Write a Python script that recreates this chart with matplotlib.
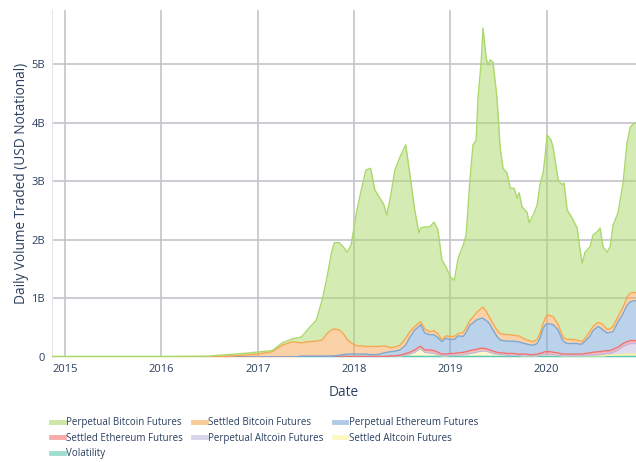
import numpy as np
import pandas as pd
import matplotlib
matplotlib.use("Agg")
import matplotlib.pyplot as plt
import matplotlib.dates as mdates
from matplotlib.lines import Line2D

# fechas de los puntos
fechas = ["2014-11-13", "2015-01-01", "2015-07-01", "2016-01-01", "2016-07-01",
          "2016-09-07", "2016-11-07", "2017-01-01", "2017-02-25", "2017-04-04",
          "2017-05-12", "2017-06-15", "2017-07-08", "2017-08-11", "2017-09-02",
          "2017-09-21", "2017-10-07", "2017-10-18", "2017-11-06", "2017-11-21",
          "2017-12-06", "2017-12-21", "2018-01-12", "2018-01-31", "2018-02-15",
          "2018-03-05", "2018-03-21", "2018-04-09", "2018-04-24", "2018-05-05",
          "2018-05-20", "2018-06-05", "2018-06-24", "2018-07-16", "2018-07-31",
          "2018-08-19", "2018-09-04", "2018-09-11", "2018-09-26", "2018-10-15",
          "2018-10-31", "2018-11-15", "2018-11-30", "2018-12-15", "2019-01-01",
          "2019-01-16", "2019-01-31", "2019-02-19", "2019-03-02", "2019-03-17",
          "2019-03-28", "2019-04-09", "2019-04-16", "2019-04-28", "2019-05-05",
          "2019-05-17", "2019-05-24", "2019-06-01", "2019-06-12", "2019-06-27",
          "2019-07-09", "2019-07-20", "2019-08-04", "2019-08-16", "2019-08-31",
          "2019-09-11", "2019-09-19", "2019-09-30", "2019-10-19", "2019-10-27",
          "2019-11-11", "2019-11-26", "2019-12-07", "2019-12-19", "2019-12-26",
          "2020-01-03", "2020-01-18", "2020-01-26", "2020-02-14", "2020-02-29",
          "2020-03-07", "2020-03-19", "2020-04-07", "2020-04-26", "2020-05-03",
          "2020-05-15", "2020-05-26", "2020-06-14", "2020-06-25", "2020-07-14",
          "2020-07-22", "2020-08-02", "2020-08-18", "2020-08-29", "2020-09-09",
          "2020-09-28", "2020-10-17", "2020-11-01", "2020-11-13", "2020-11-28",
          "2020-12-05"]

# volumen diario por serie (miles de millones USD)
perp_btc = [0.01, 0.01, 0.01, 0.01, 0.01, 0.025, 0.03, 0.035, 0.02, 0.04,
            0.05, 0.10, 0.20, 0.36, 0.68, 0.97, 1.31, 1.47, 1.49, 1.48,
            1.49, 1.67, 2.32, 2.71, 3.01, 3.04, 2.67, 2.53, 2.41, 2.24,
            2.59, 3.02, 3.21, 3.30, 2.71, 1.99, 1.54, 1.60, 1.74, 1.79,
            1.85, 1.77, 1.37, 1.18, 1.02, 0.96, 1.29, 1.49, 1.58, 2.42,
            2.94, 2.95, 3.64, 4.20, 4.76, 4.32, 4.26, 4.41, 4.46, 3.96,
            3.17, 2.83, 2.76, 2.50, 2.51, 2.35, 2.44, 2.23, 2.18, 2.01,
            2.16, 2.29, 2.54, 2.57, 2.76, 3.07, 3.00, 2.88, 2.47, 2.56,
            2.65, 2.21, 2.07, 1.91, 1.67, 1.34, 1.47, 1.44, 1.56, 1.56,
            1.62, 1.33, 1.32, 1.40, 1.73, 1.77, 2.12, 2.63, 2.83, 2.89,
            2.90]
sett_btc = [0, 0, 0, 0, 0.005, 0.015, 0.03, 0.05, 0.09, 0.20,
            0.26, 0.23, 0.25, 0.26, 0.28, 0.39, 0.45, 0.46, 0.43, 0.36,
            0.25, 0.19, 0.14, 0.14, 0.13, 0.14, 0.14, 0.13, 0.12, 0.10,
            0.07, 0.07, 0.08, 0.12, 0.10, 0.06, 0.06, 0.05, 0.07, 0.05,
            0.07, 0.07, 0.03, 0.04, 0.05, 0.05, 0.04, 0.07, 0.08, 0.08,
            0.10, 0.12, 0.14, 0.17, 0.19, 0.16, 0.12, 0.11, 0.11, 0.11,
            0.11, 0.11, 0.11, 0.11, 0.10, 0.10, 0.10, 0.09, 0.07, 0.07,
            0.06, 0.07, 0.08, 0.08, 0.11, 0.15, 0.14, 0.14, 0.09, 0.08,
            0.06, 0.07, 0.07, 0.06, 0.06, 0.04, 0.05, 0.08, 0.07, 0.07,
            0.08, 0.09, 0.06, 0.06, 0.09, 0.09, 0.11, 0.14, 0.15, 0.14,
            0.14]
perp_eth = [0, 0, 0, 0, 0, 0, 0, 0, 0, 0,
            0, 0, 0, 0, 0, 0, 0, 0.01, 0.02, 0.03,
            0.04, 0.04, 0.04, 0.04, 0.04, 0.03, 0.03, 0.04, 0.06, 0.07,
            0.07, 0.08, 0.09, 0.14, 0.25, 0.34, 0.35, 0.37, 0.29, 0.26,
            0.27, 0.25, 0.21, 0.27, 0.24, 0.24, 0.29, 0.27, 0.33, 0.44,
            0.46, 0.50, 0.50, 0.51, 0.51, 0.48, 0.47, 0.43, 0.36, 0.27,
            0.22, 0.21, 0.21, 0.21, 0.21, 0.21, 0.21, 0.19, 0.17, 0.17,
            0.16, 0.18, 0.26, 0.41, 0.45, 0.48, 0.47, 0.47, 0.39, 0.25,
            0.21, 0.18, 0.18, 0.18, 0.17, 0.17, 0.21, 0.29, 0.37, 0.43,
            0.41, 0.36, 0.30, 0.31, 0.30, 0.43, 0.51, 0.62, 0.66, 0.68,
            0.68]
sett_eth = [0, 0, 0, 0, 0, 0, 0, 0, 0, 0,
            0, 0, 0, 0, 0, 0, 0, 0, 0, 0,
            0, 0, 0, 0, 0, 0, 0, 0, 0, 0,
            0.01, 0.01, 0.01, 0.03, 0.03, 0.04, 0.04, 0.04, 0.04, 0.05,
            0.05, 0.04, 0.03, 0.03, 0.03, 0.03, 0.04, 0.04, 0.04, 0.05,
            0.05, 0.05, 0.05, 0.05, 0.05, 0.04, 0.04, 0.04, 0.04, 0.03,
            0.03, 0.03, 0.03, 0.03, 0.03, 0.02, 0.02, 0.03, 0.03, 0.02,
            0.02, 0.03, 0.03, 0.04, 0.05, 0.05, 0.05, 0.04, 0.04, 0.03,
            0.03, 0.03, 0.03, 0.03, 0.03, 0.03, 0.04, 0.04, 0.05, 0.05,
            0.05, 0.05, 0.05, 0.05, 0.05, 0.05, 0.05, 0.05, 0.05, 0.05,
            0.05]
perp_alt = [0, 0, 0, 0, 0, 0, 0, 0, 0, 0,
            0, 0, 0, 0, 0, 0, 0, 0, 0, 0,
            0, 0, 0, 0, 0, 0, 0, 0, 0, 0,
            0, 0, 0, 0, 0, 0, 0, 0, 0, 0,
            0, 0, 0, 0, 0, 0, 0, 0, 0, 0,
            0, 0, 0, 0, 0, 0, 0, 0, 0, 0,
            0, 0, 0, 0, 0, 0, 0, 0, 0, 0,
            0, 0, 0, 0, 0, 0, 0, 0, 0, 0,
            0, 0, 0, 0, 0, 0, 0, 0.01, 0.01, 0.02,
            0.02, 0.03, 0.03, 0.03, 0.05, 0.08, 0.14, 0.16, 0.18, 0.18,
            0.18]
sett_alt = [0, 0, 0, 0, 0, 0, 0, 0, 0, 0,
            0, 0, 0, 0, 0, 0, 0, 0, 0, 0,
            0, 0, 0, 0, 0, 0, 0, 0, 0, 0,
            0, 0, 0.01, 0.02, 0.04, 0.07, 0.12, 0.13, 0.07, 0.06,
            0.05, 0.03, 0.01, 0.01, 0.02, 0.02, 0.02, 0.03, 0.04, 0.05,
            0.06, 0.07, 0.08, 0.09, 0.09, 0.09, 0.08, 0.07, 0.05, 0.04,
            0.03, 0.03, 0.02, 0.02, 0.02, 0.02, 0.02, 0.01, 0.01, 0.01,
            0.01, 0.01, 0.02, 0.03, 0.03, 0.03, 0.03, 0.03, 0.02, 0.01,
            0.01, 0.01, 0.01, 0.01, 0.01, 0.01, 0.01, 0.01, 0.01, 0.01,
            0.01, 0.01, 0.02, 0.02, 0.02, 0.03, 0.03, 0.04, 0.04, 0.04,
            0.04]
volat = [0, 0, 0, 0, 0, 0, 0, 0, 0, 0,
         0, 0.01, 0.01, 0.01, 0.01, 0.01, 0.01, 0.01, 0.01, 0.01,
         0.01, 0.01, 0.01, 0.01, 0.01, 0.01, 0.01, 0.01, 0.01, 0.01,
         0.01, 0.01, 0.01, 0.01, 0.01, 0.01, 0.01, 0.01, 0.01, 0.01,
         0.01, 0.01, 0.01, 0.01, 0.01, 0.01, 0.01, 0.01, 0.01, 0.01,
         0.01, 0.01, 0.01, 0.01, 0.01, 0.01, 0.01, 0.01, 0.01, 0.01,
         0.01, 0.01, 0.01, 0.01, 0.01, 0.01, 0.01, 0.01, 0.01, 0.01,
         0.01, 0.01, 0.01, 0.01, 0.01, 0.01, 0.01, 0.01, 0.01, 0.01,
         0.01, 0.01, 0.01, 0.01, 0.01, 0.01, 0.01, 0.01, 0.01, 0.01,
         0.01, 0.01, 0.01, 0.01, 0.01, 0.01, 0.01, 0.01, 0.01, 0.01,
         0.01]

# orden de apilado: de abajo hacia arriba
nombres = ["Volatility", "Settled Altcoin Futures", "Perpetual Altcoin Futures",
           "Settled Ethereum Futures", "Perpetual Ethereum Futures",
           "Settled Bitcoin Futures", "Perpetual Bitcoin Futures"]
series = [volat, sett_alt, perp_alt, sett_eth, perp_eth, sett_btc, perp_btc]
colores = ["#5dc9b1", "#fbf59a", "#c0b8de", "#f07272", "#79a8d6", "#f8a751", "#abd86b"]

plt.rcParams['font.family'] = ['Open Sans', 'DejaVu Sans']
txt = "#2a3f5f"

x = pd.to_datetime(fechas)
fig = plt.figure(figsize=(6.36, 4.62), dpi=100)
ax = fig.add_axes([52/636, 105/462, 584/636, 347/462])

abajo = np.zeros(len(fechas))
for nom, s, c in zip(nombres, series, colores):
    arriba = abajo + np.array(s)
    ax.fill_between(x, abajo, arriba, color=c, alpha=0.5, linewidth=0, zorder=2)
    ax.plot(x, arriba, color=c, lw=1.0, zorder=3)
    abajo = arriba

ax.set_xlim(x[0], x[-1])
ax.set_ylim(0, 5.92)
ax.set_yticks([0, 1, 2, 3, 4, 5])
ax.set_yticklabels(["0", "1B", "2B", "3B", "4B", "5B"])
ax.xaxis.set_major_locator(mdates.YearLocator())
ax.xaxis.set_major_formatter(mdates.DateFormatter("%Y"))

ax.grid(True, color="#c4c4cb", lw=1.2, zorder=0)
ax.set_axisbelow(True)
for sp in ["top", "right", "bottom"]:
    ax.spines[sp].set_visible(False)
ax.spines["left"].set_color("#e4e6ec")
ax.spines["left"].set_linewidth(0.8)
ax.tick_params(length=0, labelsize=8, colors=txt, pad=5)

ax.set_xlabel("Date", fontsize=9.8, color=txt, labelpad=7)
ax.set_ylabel("Daily Volume Traded (USD Notational)", fontsize=9.8, color=txt, labelpad=1.5)

# leyenda en 3 columnas, en el orden del original
orden = [6, 3, 0, 5, 2, 4, 1]
handles = [Line2D([], [], color=colores[i], lw=3.5, alpha=0.6) for i in orden]
labels = [nombres[i] for i in orden]
fig.legend(handles, labels, ncol=3, loc="upper left",
           bbox_to_anchor=(46/636, 1 - 412.5/462), frameon=False,
           fontsize=7, handlelength=1.3, handletextpad=0.25,
           columnspacing=1.05, labelspacing=0.45, borderpad=0,
           labelcolor=txt)

fig.savefig("out.png", dpi=100)
